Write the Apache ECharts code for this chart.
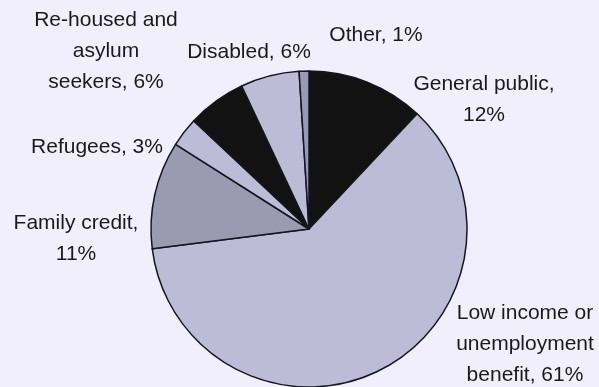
<!DOCTYPE html>
<html>
<head>
<meta charset="utf-8">
<script src="https://cdn.jsdelivr.net/npm/echarts@6/dist/echarts.min.js"></script>
<style>
  html, body { margin: 0; padding: 0; background: #f1effb; }
  #chart { width: 599px; height: 387px; }
</style>
</head>
<body>
<div id="chart"></div>
<script>
// Share of users by group (percent), clockwise from 12 o'clock
const categories = [
  'General public',
  'Low income or\nunemployment\nbenefit',
  'Family credit',
  'Refugees',
  'Re-housed and\nasylum\nseekers',
  'Disabled',
  'Other'
];
const shares = [12, 61, 11, 3, 6, 6, 1];
// whether the percentage goes on its own line after the comma
const breakAfterComma = [true, false, true, false, false, false, false];

const sliceColors = ['#121212', '#bdbcd6', '#9b9ab3', '#bdbcd6', '#121212', '#bdbcd6', '#9b9ab3'];
// label centre positions in pixels
const labelSpots = [
  [484, 100], [525, 344], [76, 239], [97, 147], [106, 51], [249, 52], [376, 35]
];

const chart = echarts.init(document.getElementById('chart'), null, { renderer: 'canvas' });

chart.setOption({
  backgroundColor: '#f1effb',
  animation: false,
  series: [{
    type: 'pie',
    center: [309, 229],
    radius: 158,
    startAngle: 90,
    clockwise: true,
    avoidLabelOverlap: false,
    data: categories.map((name, i) => ({
      name,
      value: shares[i],
      itemStyle: { color: sliceColors[i] }
    })),
    itemStyle: { borderColor: '#151520', borderWidth: 1.5 },
    label: {
      show: true,
      position: 'outside',
      color: '#1a1a1a',
      fontFamily: 'Liberation Sans, Arial, sans-serif',
      fontSize: 21,
      lineHeight: 31,
      align: 'center',
      formatter: p => p.name + ',' + (breakAfterComma[p.dataIndex] ? '\n' : ' ') + p.value + '%'
    },
    labelLine: { show: false },
    labelLayout: p => ({
      x: labelSpots[p.dataIndex][0],
      y: labelSpots[p.dataIndex][1],
      align: 'center',
      verticalAlign: 'middle'
    })
  }]
});
</script>
</body>
</html>
